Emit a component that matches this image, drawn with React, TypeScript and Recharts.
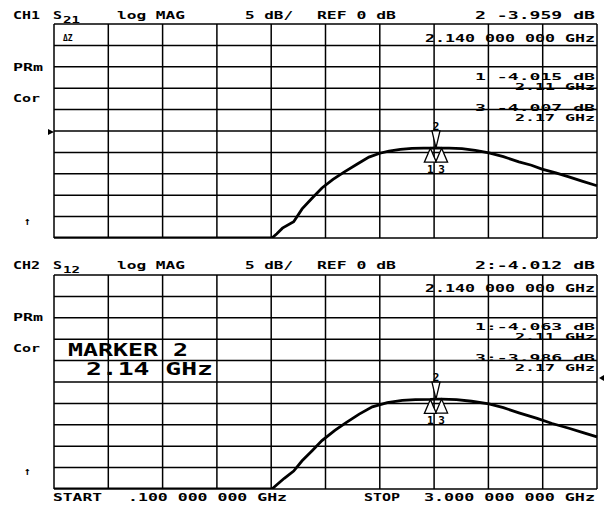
import React from "react";
import {
  LineChart,
  Line,
  XAxis,
  YAxis,
  CartesianGrid,
  ReferenceDot
} from "recharts";

// sweep: .1 GHz to 3 GHz, 10 divisions
const freqTicks = [0.1, 0.39, 0.68, 0.97, 1.26, 1.55, 1.84, 2.13, 2.42, 2.71, 3.0];
// log MAG, 5 dB/div, REF 0 dB at centre
const dbTicks = [-25, -20, -15, -10, -5, 0, 5, 10, 15, 20, 25];

// CH1 S21
const freqCh1 = [0.1, 1.264, 1.29, 1.32, 1.38, 1.425, 1.478, 1.531, 1.59, 1.649, 1.72, 1.782, 1.84, 1.889, 1.95, 2.012, 2.075, 2.11, 2.14, 2.17, 2.21, 2.279, 2.35, 2.423, 2.5, 2.583, 2.65, 2.706, 2.78, 2.85, 2.92, 3.0];
const s21 = [-25, -25, -24, -22.7, -21.2, -18.2, -15.7, -13.3, -11.3, -9.6, -7.7, -6.1, -5.2, -4.7, -4.3, -4.05, -3.98, -4.015, -3.959, -4.007, -4.0, -4.1, -4.5, -5.1, -6.0, -7.2, -8.0, -8.9, -9.8, -10.7, -11.7, -12.8];

// CH2 S12
const freqCh2 = [0.1, 1.264, 1.29, 1.33, 1.38, 1.425, 1.48, 1.531, 1.6, 1.66, 1.73, 1.8, 1.88, 1.96, 2.03, 2.11, 2.14, 2.17, 2.25, 2.33, 2.423, 2.5, 2.583, 2.68, 2.76, 2.85, 2.93, 3.0];
const s12 = [-25, -25, -24, -22.5, -20.8, -18.4, -16, -13.7, -11.3, -9.5, -7.5, -5.8, -4.8, -4.3, -4.1, -4.063, -4.012, -3.986, -4.1, -4.5, -5.1, -6.0, -7.2, -8.5, -9.7, -10.8, -11.9, -12.8];

// markers 1, 2, 3 (GHz)
const markerFreqs = [2.11, 2.14, 2.17];
const markersCh1 = [-4.015, -3.959, -4.007];
const markersCh2 = [-4.063, -4.012, -3.986];

const FONT = "'DejaVu Sans Mono', 'Liberation Mono', monospace";

function toRows(f: number[], v: number[]) {
  return f.map((x, i) => ({ f: x, db: v[i] }));
}

// active marker: down triangle sitting on trace
function ActiveMarker(props: any) {
  const { cx, cy } = props;
  return (
    <g>
      <path d={`M${cx},${cy} L${cx - 4},${cy - 17} L${cx + 4},${cy - 17} Z`} fill="white" stroke="black" strokeWidth={1.3} />
      <text x={cx} y={cy - 18} fontFamily={FONT} fontSize={11} fontWeight="bold" textAnchor="middle">2</text>
    </g>
  );
}

function OtherMarker(label: string) {
  return (props: any) => {
    const { cx, cy } = props;
    return (
      <g>
        <path d={`M${cx},${cy} L${cx - 6},${cy + 14} L${cx + 6},${cy + 14} Z`} fill="white" stroke="black" strokeWidth={1.3} />
        <text x={cx} y={cy + 25} fontFamily={FONT} fontSize={11} fontWeight="bold" textAnchor="middle">{label}</text>
      </g>
    );
  };
}

function Panel({ f, v, marks }: { f: number[]; v: number[]; marks: number[] }) {
  return (
    <LineChart width={551} height={222} data={toRows(f, v)} margin={{ top: 4, right: 4, bottom: 4, left: 4 }}>
      <CartesianGrid stroke="#000" strokeWidth={1.5} />
      <XAxis dataKey="f" type="number" domain={[0.1, 3.0]} ticks={freqTicks} interval={0} hide />
      <YAxis type="number" domain={[-25, 25]} ticks={dbTicks} interval={0} allowDataOverflow hide />
      <Line dataKey="db" type="linear" stroke="#000" strokeWidth={2.8} dot={false} isAnimationActive={false} />
      <ReferenceDot x={markerFreqs[0]} y={marks[0]} ifOverflow="visible" shape={OtherMarker("1")} />
      <ReferenceDot x={markerFreqs[2]} y={marks[2]} ifOverflow="visible" shape={OtherMarker("3")} />
      <ReferenceDot x={markerFreqs[1]} y={marks[1]} ifOverflow="visible" shape={ActiveMarker} />
    </LineChart>
  );
}

function T({ x, y, w, s, size = 11 }: { x: number; y: number; w?: number; s: string; size?: number }) {
  return (
    <text
      x={x}
      y={y}
      fontFamily={FONT}
      fontSize={size}
      fontWeight="bold"
      textLength={w}
      lengthAdjust={w ? "spacingAndGlyphs" : undefined}
    >
      {s}
    </text>
  );
}

function Header({ dy, ch, sub, mk, sep }: { dy: number; ch: string; sub: string; mk: string[]; sep: string }) {
  return (
    <g transform={`translate(0,${dy})`}>
      <T x={13} y={19} w={27} s={ch} />
      <T x={53} y={19} w={9} s="S" />
      <T x={63} y={23} w={17} s={sub} size={9} />
      <T x={117} y={19} w={68} s="log MAG" />
      <T x={245} y={19} w={48} s="5 dB/" />
      <T x={317} y={19} w={79} s="REF 0 dB" />
      <T x={475} y={19} w={120} s={`2${sep}${mk[1]}  dB`} />
      <T x={425} y={42} w={170} s="2.140 000 000 GHz" />
      <T x={13} y={71} w={30} s="PRm" size={10} />
      <T x={13} y={102} w={27} s="Cor" size={10} />
      <T x={475} y={80} w={120} s={`1${sep}${mk[0]}  dB`} size={9} />
      <T x={515} y={90} w={80} s="2.11 GHz" size={9} />
      <T x={475} y={111} w={120} s={`3${sep}${mk[2]}  dB`} size={9} />
      <T x={515} y={121} w={80} s="2.17 GHz" size={9} />
      <T x={24} y={225} s="↑" size={11} />
    </g>
  );
}

export default function App() {
  return (
    <div style={{ position: "absolute", left: 0, top: 0, width: 604, height: 509, background: "#fff", overflow: "hidden" }}>
      <div style={{ position: "absolute", left: 50, top: 20 }}>
        <Panel f={freqCh1} v={s21} marks={markersCh1} />
      </div>
      <div style={{ position: "absolute", left: 50, top: 271 }}>
        <Panel f={freqCh2} v={s12} marks={markersCh2} />
      </div>
      <svg width={604} height={509} style={{ position: "absolute", left: 0, top: 0, pointerEvents: "none" }}>
        <Header dy={0} ch="CH1" sub="21" mk={["-4.015", "-3.959", "-4.007"]} sep=" " />
        <Header dy={250} ch="CH2" sub="12" mk={["-4.063", "-4.012", "-3.986"]} sep=":" />
        <text x={63} y={41} fontFamily={FONT} fontSize={8} fontWeight="bold">ΔZ</text>
        {/* reference position arrows */}
        <path d="M48,129 L54,132 L48,135 Z" fill="#000" />
        <path d="M604,375 L599,378 L604,381 Z" fill="#000" />
        <T x={68} y={356} w={120} s="MARKER 2" size={17} />
        <T x={86} y={375} w={127} s="2.14 GHz" size={17} />
        <T x={53} y={501} w={49} s="START" size={10} />
        <T x={128} y={501} w={159} s=".100 000 000 GHz" size={10} />
        <T x={364} y={501} w={36} s="STOP" size={10} />
        <T x={424} y={501} w={171} s="3.000 000 000 GHz" size={10} />
      </svg>
    </div>
  );
}
